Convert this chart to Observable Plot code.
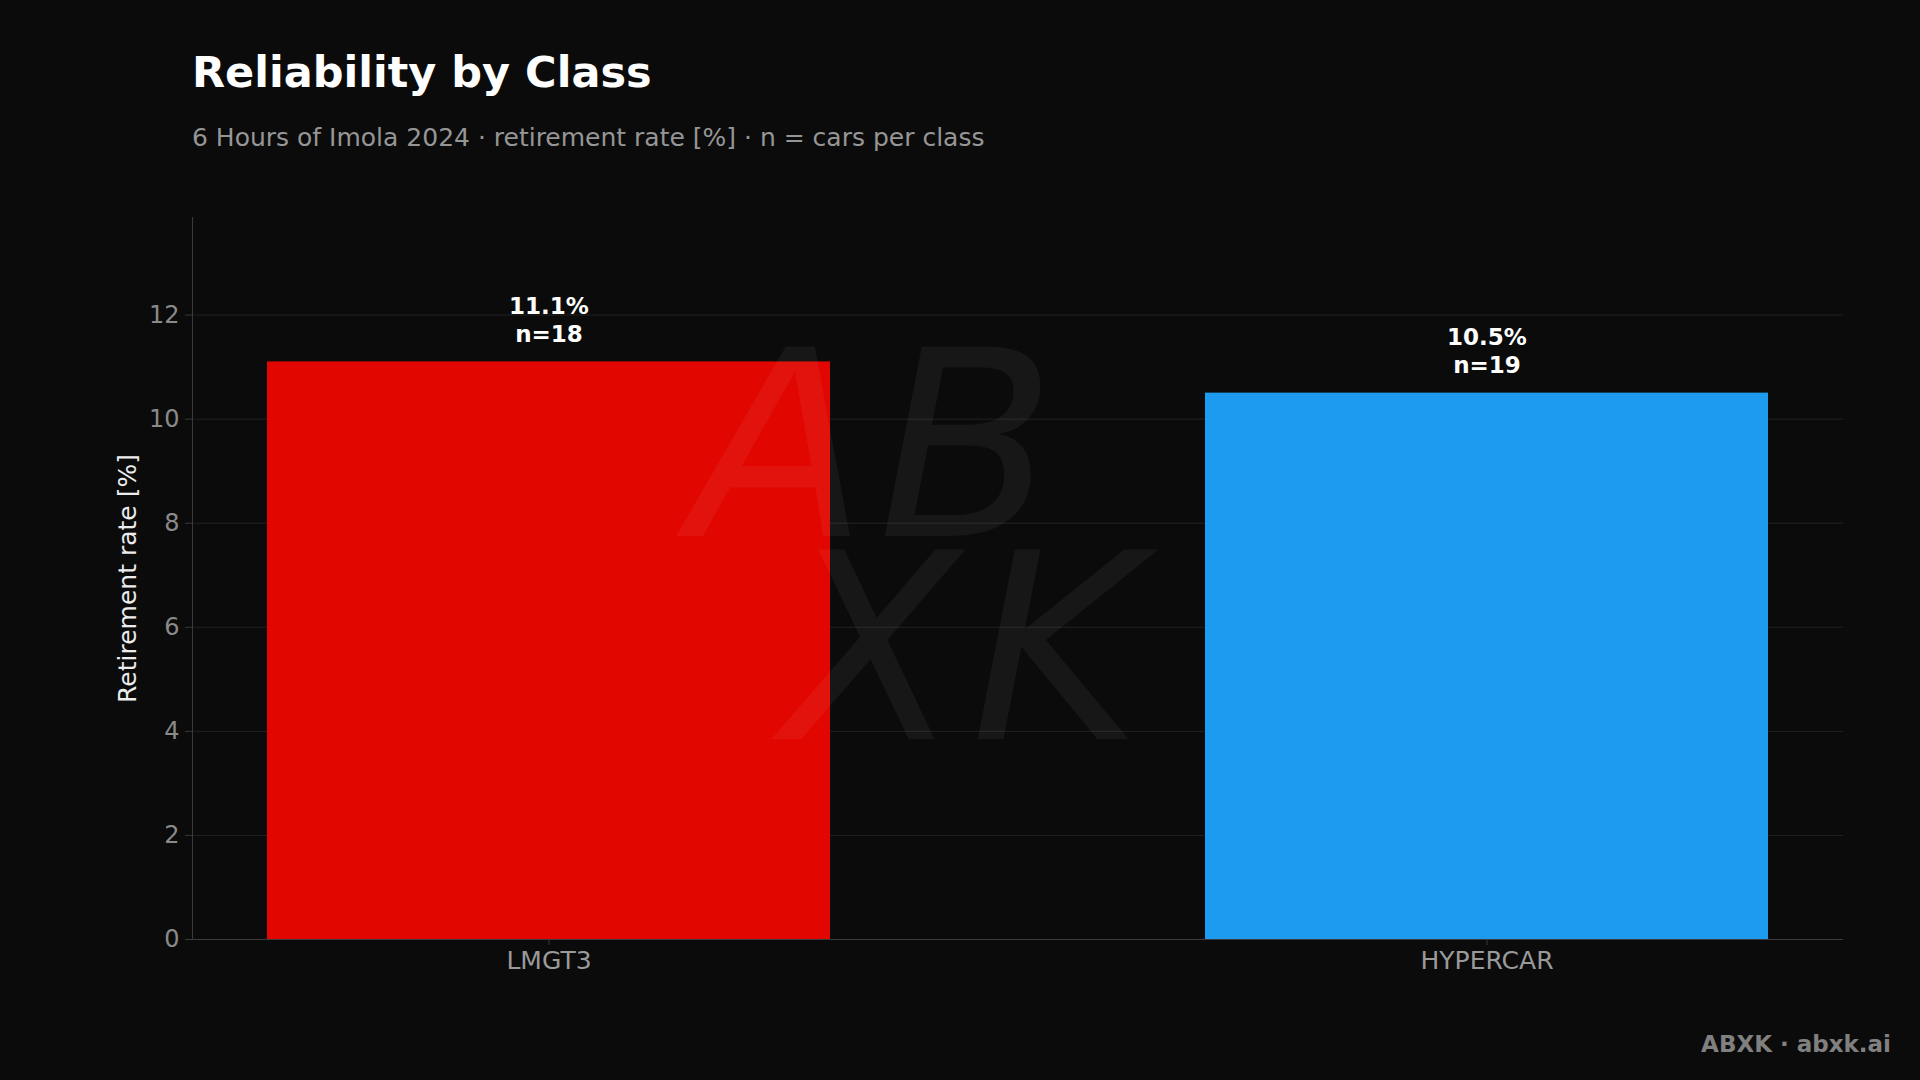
<!DOCTYPE html>
<html><head><meta charset="utf-8">
<script src="https://cdn.jsdelivr.net/npm/d3@7"></script>
<script src="https://cdn.jsdelivr.net/npm/@observablehq/plot@0.6"></script>
<style>
html,body{margin:0;padding:0;background:#0b0b0b;}
#page{position:relative;width:1920px;height:1080px;overflow:hidden;font-family:"DejaVu Sans",sans-serif;background:#0b0b0b;}
#title{position:absolute;left:192px;top:51px;font-size:43px;line-height:1;font-weight:bold;color:#ffffff;white-space:nowrap;}
#subtitle{position:absolute;left:192px;top:125px;font-size:25px;line-height:1;color:#969696;white-space:nowrap;}
#chart{position:absolute;left:0;top:170px;width:1920px;height:830px;}
#wm{position:absolute;left:690px;top:345px;font-size:260px;line-height:0.78;font-weight:200;font-style:italic;letter-spacing:10px;color:rgba(255,255,255,0.05);white-space:pre;pointer-events:none;font-family:"DejaVu Sans",sans-serif;}
#footer{position:absolute;right:29px;top:1033px;font-size:23px;line-height:1;font-weight:bold;color:#808080;white-space:nowrap;}
</style></head><body>
<div id="page">
<div id="title"></div>
<div id="subtitle"></div>
<div id="chart"></div>
<div id="wm">AB
 XK</div>
<div id="footer"></div>
</div>
<script>
const titleText = "Reliability by Class";
const subtitleText = "6 Hours of Imola 2024 · retirement rate [%] · n = cars per class";
const footerText = "ABXK · abxk.ai";
const yLabel = "Retirement rate [%]";
const classes = ["LMGT3", "HYPERCAR"];
const retirementRate = [11.1, 10.5];
const carsPerClass = [18, 19];
const barColors = ["#e10600", "#1d9bf0"];
const yTicks = [0, 2, 4, 6, 8, 10, 12];

document.getElementById("title").textContent = titleText;
document.getElementById("subtitle").textContent = subtitleText;
document.getElementById("footer").textContent = footerText;

const data = classes.map((c, i) => ({cls: c, rate: retirementRate[i], n: carsPerClass[i]}));

const chart = Plot.plot({
  width: 1920, height: 830,
  marginTop: 47, marginBottom: 61, marginLeft: 192, marginRight: 77,
  style: {background: "transparent", fontFamily: "DejaVu Sans", overflow: "visible"},
  x: {domain: classes, paddingInner: 0.4, paddingOuter: 0.08, label: null},
  y: {domain: [0, d3.max(retirementRate) * 1.25], label: null},
  color: {domain: classes, range: barColors},
  marks: [
    Plot.gridY(yTicks, {stroke: "#222222", strokeOpacity: 1}),
    Plot.barY(data, {x: "cls", y: "rate", fill: "cls"}),
    Plot.frame({anchor: "left", stroke: "#3a3a3a"}),
    Plot.ruleY([0], {stroke: "#3a3a3a"}),
    Plot.axisY({ticks: yTicks, tickSize: 7, tickPadding: 6, fontSize: 24, fill: "#8a8a8a", stroke: "#3a3a3a", label: null}),
    Plot.axisX({tickSize: 6, tickPadding: 6, fontSize: 25, fill: "#9a9a9a", stroke: "#3a3a3a", label: null}),
    Plot.text(data, {x: "cls", y: "rate", text: d => `${d.rate.toFixed(1)}%\nn=${d.n}`,
      lineAnchor: "bottom", dy: -20, fill: "#ffffff", fontWeight: "bold", fontSize: 23, lineHeight: 1.22}),
    Plot.text([yLabel], {frameAnchor: "left", dx: -65, rotate: -90, text: d => d, fill: "#ececec", fontSize: 25, textAnchor: "middle"})
  ]
});
document.getElementById("chart").appendChild(chart);
</script>
</body></html>
